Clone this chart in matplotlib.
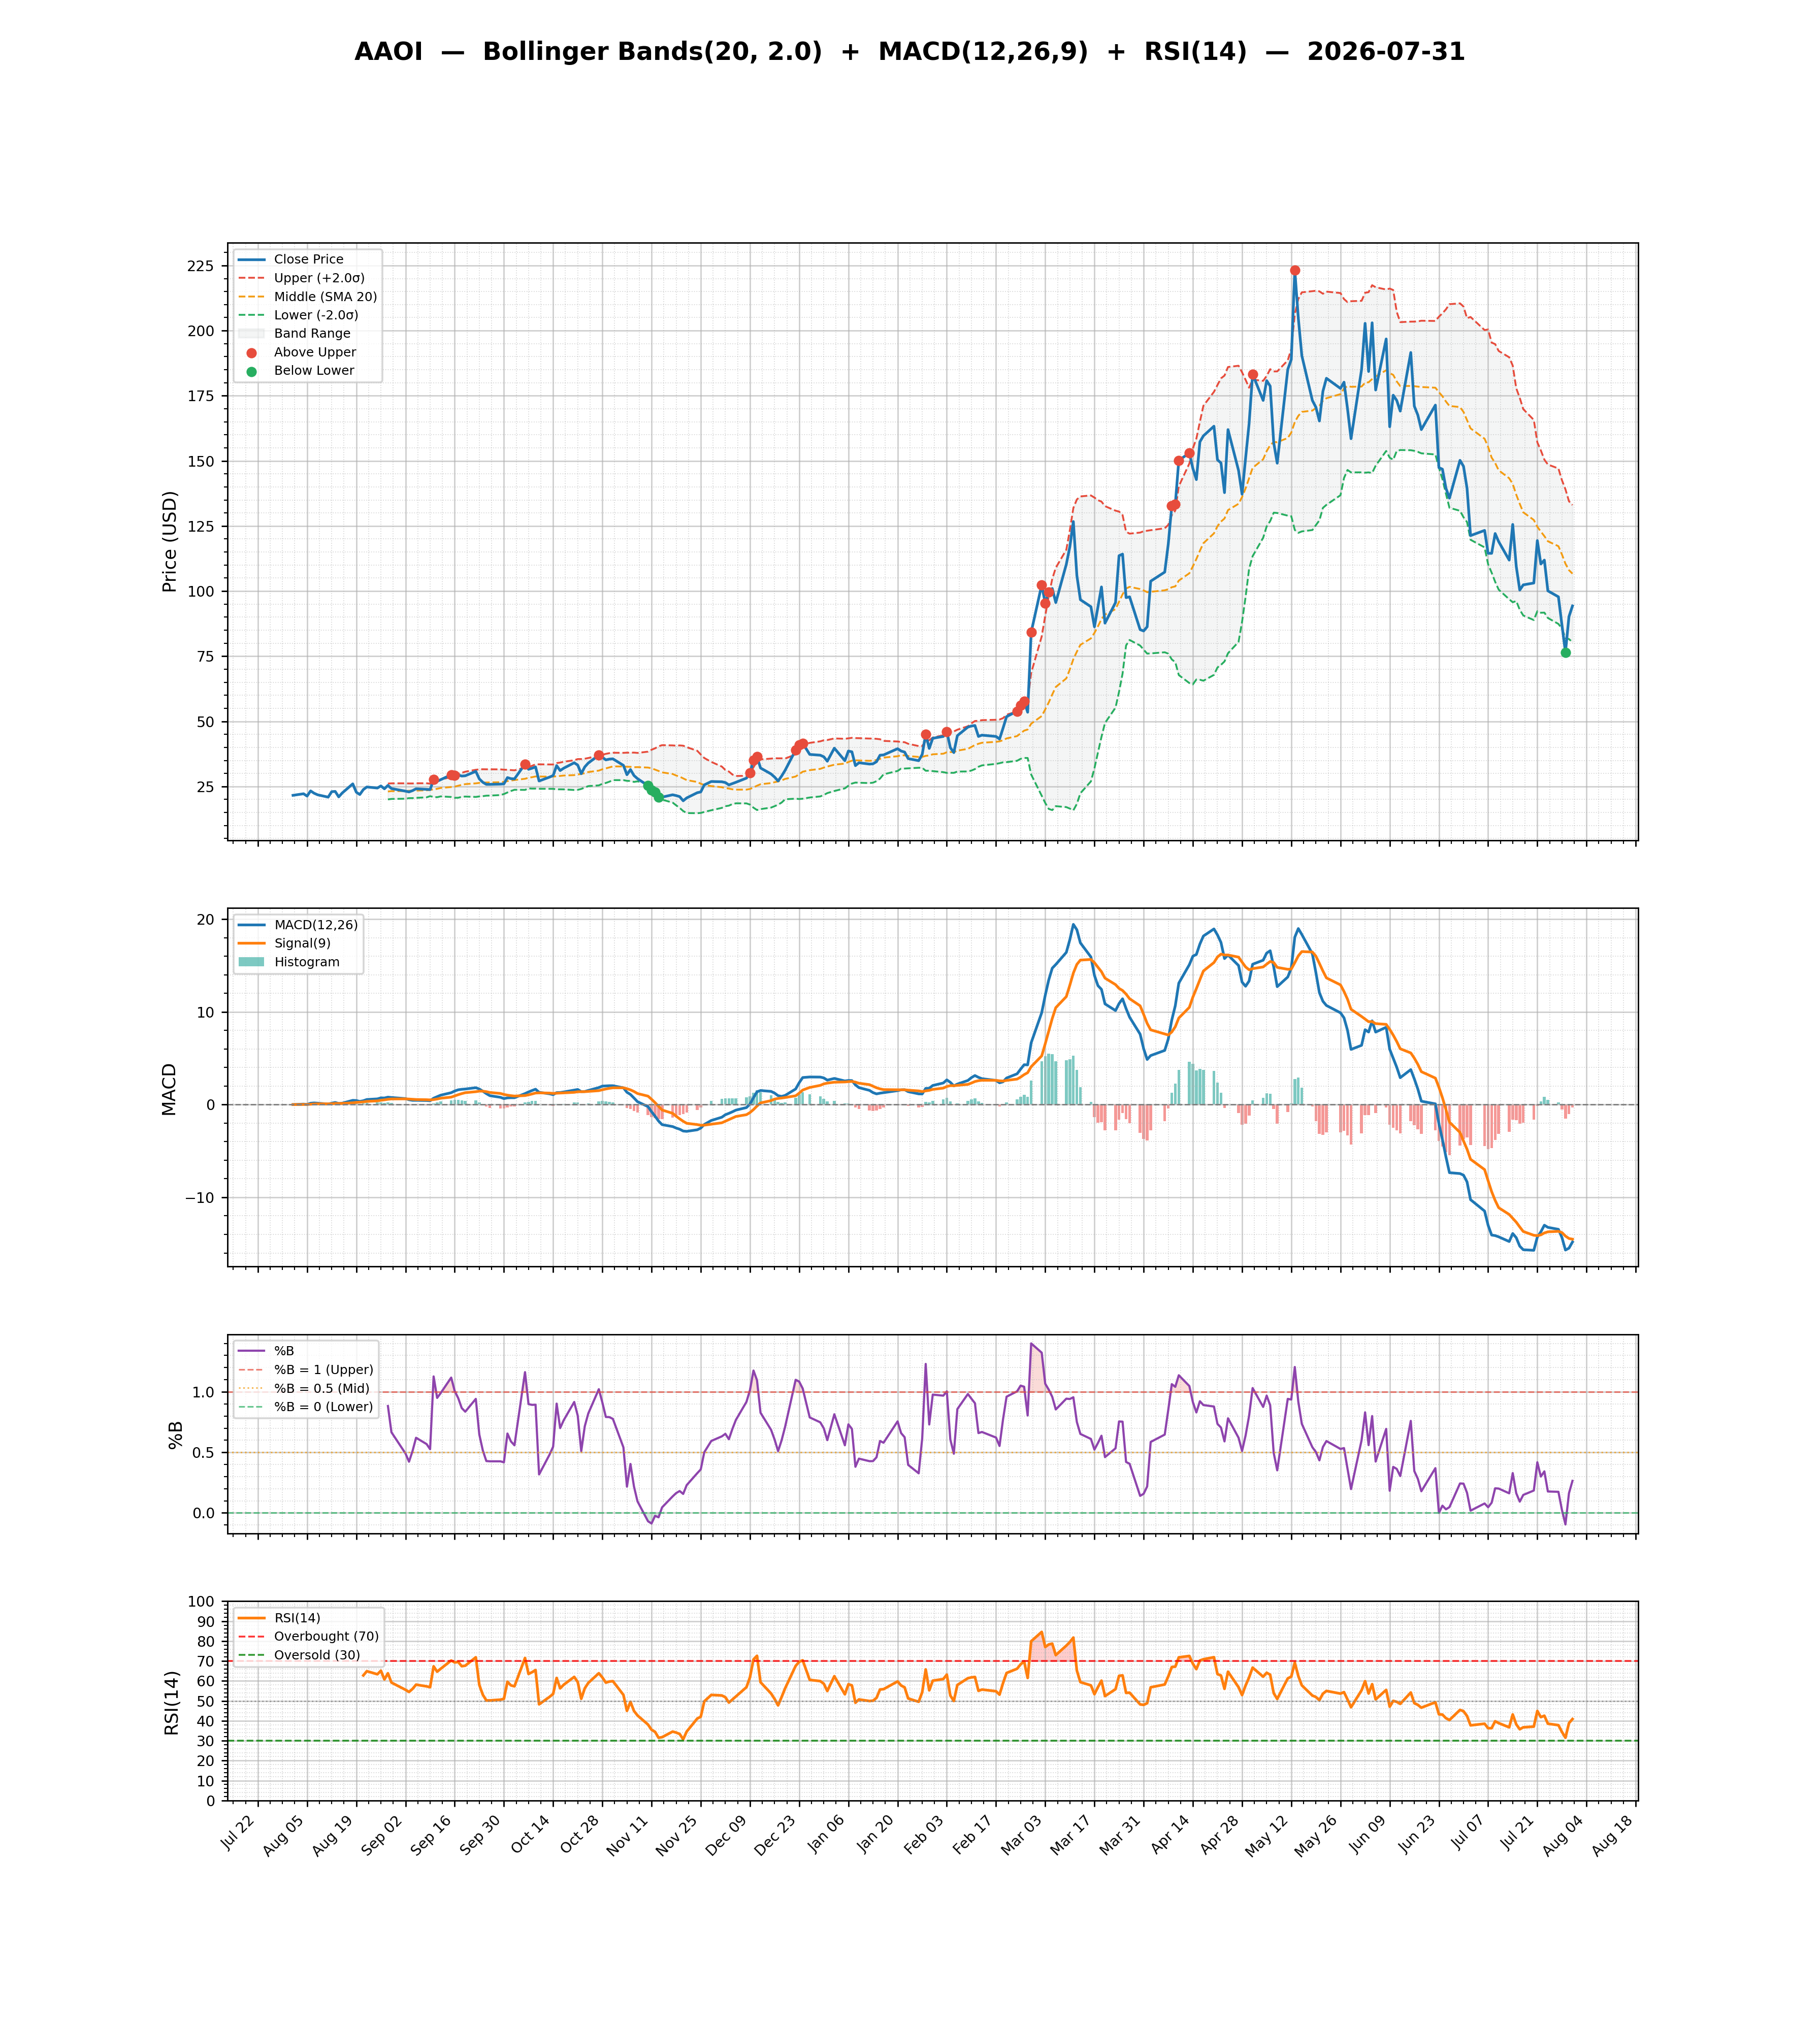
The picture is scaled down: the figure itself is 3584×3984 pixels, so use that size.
import numpy as np
import pandas as pd
import matplotlib
matplotlib.use("Agg")
import matplotlib.pyplot as plt
import matplotlib.dates as mdates
from matplotlib.ticker import MultipleLocator
from matplotlib.patches import Patch

TICKER = "AAOI"
AS_OF = "2026-07-31"
BB_WINDOW = 20
BB_K = 2.0

holidays = ["2025-09-01", "2025-11-27", "2025-12-25", "2026-01-01", "2026-01-19",
            "2026-02-16", "2026-04-03", "2026-05-25", "2026-06-19", "2026-07-03"]

close_aug = [21.6, 22.2, 21.3, 23.3, 22.4, 21.8, 20.9, 23.0, 23.1, 21.0, 22.5,
             26.0, 22.8, 21.9, 23.8, 24.8, 24.4, 25.2, 24.1, 25.4, 24.2]
close_sep = [23.2, 22.9, 23.4, 24.1, 23.9, 23.8, 27.6, 27.0, 27.6, 29.5, 29.3,
             29.4, 29.0, 29.1, 30.8, 27.9, 26.6, 25.8, 25.8, 25.9, 26.0]
close_oct = [28.4, 28.0, 27.9, 33.6, 31.6, 32.0, 32.5, 27.1, 28.6, 29.2, 33.0,
             31.1, 32.0, 34.1, 33.2, 29.9, 32.5, 34.0, 37.0, 36.2, 35.2, 35.5, 35.6]
close_nov = [33.1, 29.5, 31.5, 29.2, 28.0, 25.3, 23.6, 22.9, 20.8, 20.9, 21.8,
             21.5, 21.1, 19.5, 20.6, 22.6, 22.9, 25.6, 26.9]
close_dec = [26.8, 26.5, 25.6, 26.1, 26.6, 28.2, 30.2, 35.1, 36.4, 32.1, 29.8,
             28.6, 27.1, 29.0, 31.2, 39.0, 40.9, 41.6, 37.3, 37.0, 36.4, 34.7]
close_jan = [39.7, 34.9, 38.6, 38.3, 33.0, 34.1, 33.6, 33.7, 34.5, 37.0, 37.1,
             39.5, 38.6, 38.2, 35.7, 34.9, 37.3, 45.1, 39.6, 43.5]
close_feb = [44.2, 46.1, 39.9, 38.0, 44.5, 47.8, 48.2, 48.4, 44.2, 44.7, 44.2,
             43.2, 47.4, 51.8, 53.9, 56.2, 57.8, 53.5, 84.2]
close_mar = [102.4, 95.3, 99.6, 101.0, 95.6, 110.3, 117.0, 126.7, 106.0, 96.7, 94.0,
             86.3, 94.0, 101.6, 87.7, 95.6, 113.6, 114.2, 97.5, 97.8, 85.2, 84.7]
close_apr = [86.3, 103.8, 107.3, 118.0, 132.7, 133.3, 150.2, 153.0, 147.1, 142.8, 157.3,
             159.6, 163.3, 150.4, 149.2, 137.8, 162.0, 146.3, 137.2, 151.0, 164.3]
close_may = [183.3, 173.2, 180.8, 178.7, 157.0, 149.1, 185.1, 188.9, 223.3, 204.8,
             190.4, 173.2, 170.6, 165.3, 176.7, 181.7, 177.8, 180.2, 170.0, 158.5]
close_jun = [185.1, 202.8, 184.3, 203.0, 177.2, 196.8, 163.1, 175.2, 173.2, 169.1, 191.6,
             171.0, 167.6, 162.0, 171.4, 147.4, 146.8, 139.5, 135.7, 150.2, 147.9]
close_jul = [139.5, 121.3, 123.3, 114.5, 114.5, 122.1, 119.0, 111.9, 125.6, 109.5, 100.4,
             102.4, 103.1, 119.4, 110.4, 111.9, 100.1, 97.8, 87.0, 76.5, 90.2, 94.3]

# ---- dates & series ----
dates = pd.bdate_range("2025-08-01", "2026-07-31")
dates = dates[~dates.isin(pd.to_datetime(holidays))]
values = np.concatenate([close_aug, close_sep, close_oct, close_nov, close_dec, close_jan,
                         close_feb, close_mar, close_apr, close_may, close_jun, close_jul])
n = min(len(dates), len(values))
dates = dates[:n]
close = pd.Series(values[:n], index=dates)

# ---- indicators ----
mid = close.rolling(BB_WINDOW).mean()
sd = close.rolling(BB_WINDOW).std()
upper = mid + BB_K * sd
lower = mid - BB_K * sd
pctb = (close - lower) / (upper - lower)

ema12 = close.ewm(span=12, adjust=False).mean()
ema26 = close.ewm(span=26, adjust=False).mean()
macd = ema12 - ema26
signal = macd.ewm(span=9, adjust=False).mean()
hist = macd - signal

delta = close.diff()
gain = delta.clip(lower=0)
loss = -delta.clip(upper=0)
avg_gain = gain.ewm(alpha=1 / 14, adjust=False, min_periods=14).mean()
avg_loss = loss.ewm(alpha=1 / 14, adjust=False, min_periods=14).mean()
rsi = 100 - 100 / (1 + avg_gain / avg_loss)

above = close > upper
below = close < lower

# ---- figure ----
plt.rcParams["font.family"] = ["DejaVu Sans"]
plt.rcParams["xtick.labelsize"] = 8
plt.rcParams["ytick.labelsize"] = 8
fig, axes = plt.subplots(4, 1, figsize=(14, 15.5625), dpi=256, sharex=True,
                         gridspec_kw={"height_ratios": [3, 1.8, 1, 1]})
ax0, ax1, ax2, ax3 = axes
fig.suptitle(f"{TICKER}  \u2014  Bollinger Bands({BB_WINDOW}, {BB_K})  +  MACD(12,26,9)  +  RSI(14)  \u2014  {AS_OF}",
             fontsize=13.75, fontweight="bold")

# Price panel
ax0.plot(dates, close, color="#1f77b4", lw=1.5, label="Close Price", zorder=3)
ax0.plot(dates, upper, "--", color="#e74c3c", lw=1.0, label="Upper (+2.0\u03c3)")
ax0.plot(dates, mid, "--", color="#f39c12", lw=1.0, label="Middle (SMA 20)")
ax0.plot(dates, lower, "--", color="#27ae60", lw=1.0, label="Lower (-2.0\u03c3)")
ax0.fill_between(dates, lower, upper, color="#95a5a6", alpha=0.1, label="Band Range")
ax0.scatter(dates[above.values], close[above], color="#e74c3c", s=22, zorder=5, label="Above Upper")
ax0.scatter(dates[below.values], close[below], color="#27ae60", s=22, zorder=5, label="Below Lower")
ax0.set_ylabel("Price (USD)", fontsize=10)
ax0.yaxis.set_major_locator(MultipleLocator(25))
ax0.legend(loc="upper left", fontsize=7)

# MACD panel
ax1.plot(dates, macd, color="#1f77b4", lw=1.5, label="MACD(12,26)")
ax1.plot(dates, signal, color="#ff7f0e", lw=1.5, label="Signal(9)")
bar_colors = np.where(hist.values >= 0, "#26a69a", "#ef5350")
ax1.bar(dates, hist.values, width=0.8, color=bar_colors, alpha=0.6)
ax1.axhline(0, color="gray", ls="--", lw=0.8)
h, l = ax1.get_legend_handles_labels()
h.append(Patch(facecolor="#26a69a", alpha=0.6))
l.append("Histogram")
ax1.legend(h, l, loc="upper left", fontsize=7)
ax1.set_ylabel("MACD", fontsize=10)
ax1.yaxis.set_major_locator(MultipleLocator(10))

# %B panel
ax2.plot(dates, pctb, color="#8e44ad", lw=1.2, label="%B")
ax2.axhline(1.0, color="#e74c3c", ls="--", lw=0.9, alpha=0.7, label="%B = 1 (Upper)")
ax2.axhline(0.5, color="#f39c12", ls=":", lw=0.9, alpha=0.7, label="%B = 0.5 (Mid)")
ax2.axhline(0.0, color="#27ae60", ls="--", lw=0.9, alpha=0.7, label="%B = 0 (Lower)")
ax2.fill_between(dates, pctb, 1.0, where=(pctb > 1.0).values, color="#e74c3c", alpha=0.2, interpolate=True)
ax2.fill_between(dates, pctb, 0.0, where=(pctb < 0.0).values, color="#27ae60", alpha=0.2, interpolate=True)
ax2.set_ylabel("%B", fontsize=10)
ax2.yaxis.set_major_locator(MultipleLocator(0.5))
ax2.legend(loc="upper left", fontsize=7)

# RSI panel
ax3.plot(dates, rsi, color="#ff7f0e", lw=1.5, label="RSI(14)")
ax3.axhline(70, color="red", ls="--", lw=1.0, alpha=0.8, label="Overbought (70)")
ax3.axhline(30, color="green", ls="--", lw=1.0, alpha=0.8, label="Oversold (30)")
ax3.axhline(50, color="gray", ls=":", lw=0.8, alpha=0.7)
ax3.fill_between(dates, rsi, 70, where=(rsi > 70).values, color="red", alpha=0.2, interpolate=True)
ax3.fill_between(dates, rsi, 30, where=(rsi < 30).values, color="green", alpha=0.2, interpolate=True)
ax3.set_ylim(0, 100)
ax3.set_yticks(np.arange(0, 101, 10))
ax3.set_ylabel("RSI(14)", fontsize=10)
ax3.legend(loc="upper left", fontsize=7)

for ax in axes:
    ax.minorticks_on()
    ax.grid(True, which="major", color="#b0b0b0", alpha=0.6, lw=0.8)
    ax.grid(True, which="minor", color="#b0b0b0", ls=":", alpha=0.5, lw=0.5)

xl = ax3.get_xlim()
ticks = pd.date_range("2025-07-22", "2026-08-18", freq="14D")
ax3.set_xticks(ticks)
ax3.xaxis.set_major_formatter(mdates.DateFormatter("%b %d"))
ax3.set_xlim(xl)
plt.setp(ax3.get_xticklabels(), rotation=45, ha="right")

fig.savefig("out.png", dpi=256)
